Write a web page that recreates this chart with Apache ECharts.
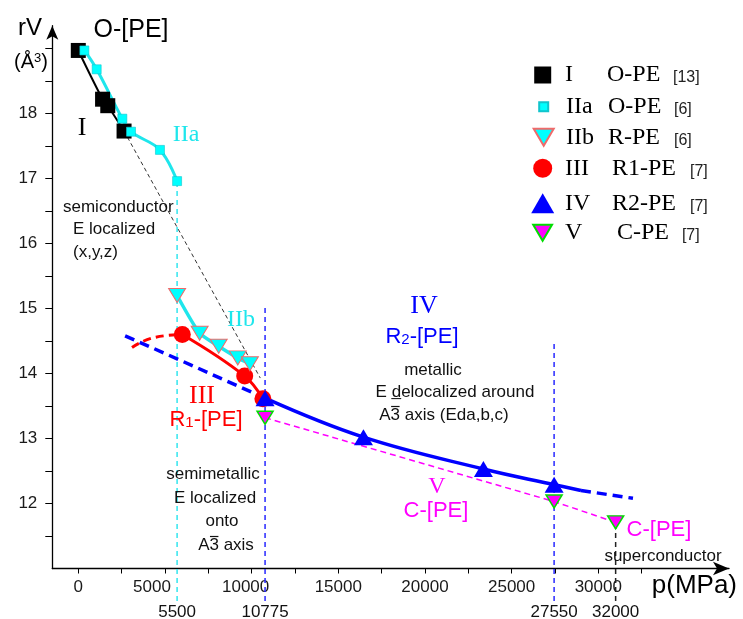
<!DOCTYPE html>
<html><head><meta charset="utf-8">
<script src="https://cdn.jsdelivr.net/npm/echarts@6/dist/echarts.min.js"></script>
<style>html,body{margin:0;padding:0;background:#fff}#c{width:743px;height:619px}</style>
</head><body><div id="c"></div>
<script>
// ---------- data ----------
const pI   = [0, 1400, 1700, 2640];
const vI   = [18.97, 18.22, 18.12, 17.73];
const pIIa = [350, 1060, 2540, 3040, 4710, 5700];
const vIIa = [18.97, 18.68, 17.92, 17.72, 17.44, 16.96];
const pIIb = [5700, 7000, 8100, 9200, 9900];
const vIIb = [15.2, 14.62, 14.42, 14.24, 14.15];
const pIII = [6000, 9600, 10650];
const vIII = [14.6, 13.96, 13.61];
const pIV  = [10775, 16450, 23370, 27450];
const vIV  = [13.62, 13.02, 12.53, 12.29];
const pV   = [10775, 27450, 31000];
const vV   = [13.32, 12.03, 11.71];
// guide curves
const pIIIdash = [3100, 4330, 6000];
const vIIIdash = [14.40, 14.55, 14.6];
const pIVdashL = [2700, 6000, 10775];
const vIVdashL = [14.58, 14.19, 13.62];
const pIVsolid = [10775, 16450, 23370, 27450, 29000];
const vIVsolid = [13.62, 13.02, 12.53, 12.29, 12.2];
const pIVdashR = [29000, 32000];
const vIVdashR = [12.2, 12.08];
const pIdash = [2640, 10500];
const vIdash = [17.73, 13.93];
// vertical guides
const guideP = [5700, 10775, 27450, 31000];
const guideTop = [16.96, 15.07, 14.5, 11.71];
const guideBottom = 10.5;
const guideLabels = ['5500', '10775', '27550', '32000'];
// axis ticks / labels
const xTicks = [0,2500,5000,7500,10000,12500,15000,17500,20000,22500,25000,27500,30000,32500];
const xLabels = [0,5000,10000,15000,20000,25000,30000];
const yTicks = [11.5,12,12.5,13,13.5,14,14.5,15,15.5,16,16.5,17,17.5,18,18.5,19];
const yLabels = [12,13,14,15,16,17,18];
// legend
const legCodes = ['I','IIa','IIb','III','IV','V'];
const legNames = ['O-PE','O-PE','R-PE','R1-PE','R2-PE','C-PE'];
const legRefs  = ['[13]','[6]','[6]','[7]','[7]','[7]'];

// ---------- styling ----------
const SANS = '"Liberation Sans", Arial, sans-serif';
const SERIF = '"Liberation Serif", "Times New Roman", serif';
const DOWN = 'path://M0,0L20,0L10,17Z';
const CYAN='#00ffff', CYANL='#1ee6ec', RED='#ff0000', BLUE='#0000ff', MAG='#ff00ff', GREEN='#00dd00';
const zip = (a,b) => a.map((x,i)=>[x,b[i]]);

const seriesNames = ['I','IIa','IIb','III','IV','V'];
const legRowY = [75,106.7,137.3,168.3,203.3,232.7];
const legIconW = [17,9,20,19,23,21];
const legIconH = [17,9,17,19,20,16];
const legBStart = [607,607,607,612,612,617];
const legCStart = [673,673,673,690,690,682];
const legCenterX = 542.7, legTextX = 565;

function scat(name, p, v, symbol, size, style, z){
  style.opacity = 1;
  return {type:'scatter', name, data:zip(p,v), symbol, symbolSize:size, itemStyle:style, z:z||10, silent:true};
}
function ln(p, v, color, width, type, smooth, z){
  return {type:'line', data:zip(p,v), symbol:'none', smooth:smooth||false, clip:false,
    lineStyle:{color, width, type:type||'solid'}, z:z||5, silent:true};
}

const guideColors = ['#33e6ee','#2828ff','#2828ff','#222'];
const series = [];
guideP.forEach((p,i)=>{
  series.push(ln([p,p],[guideBottom,guideTop[i]],guideColors[i],1.5,[5,4],false,2));
});
series.push(ln(pIdash, vIdash, '#333', 1, [4,3], false, 3));
series.push(ln(pV, vV, MAG, 1.5, [6,4], false, 4));
series.push(ln(pIVdashL, vIVdashL, BLUE, 3.5, [10,6], false, 4));
series.push(ln(pIVsolid, vIVsolid, BLUE, 3.5, 'solid', 0.4, 4));
series.push(ln(pIVdashR, vIVdashR, BLUE, 3.5, [10,6], false, 4));
series.push(ln(pIIIdash, vIIIdash, RED, 3, [8,5], 0.5, 4));
series.push(ln(pIII, vIII, RED, 3, 'solid', 0.4, 4));
series.push(ln(pIIb, vIIb, CYANL, 3.5, 'solid', 0.2, 5));
series.push(ln(pIIa, vIIa, CYANL, 3, 'solid', 0.4, 5));
series.push(ln(pI, vI, '#000', 2, 'solid', 0.3, 6));

series.push(scat('I', pI, vI, 'rect', 15, {color:'#000'}, 12));
series.push(scat('IIa', pIIa, vIIa, 'rect', 9, {color:CYAN, borderColor:'#11c4cc', borderWidth:0.6}, 13));
series.push(scat('IIb', pIIb, vIIb, DOWN, [17,14], {color:CYAN, borderColor:'#f06a6a', borderWidth:1}, 11));
series.push(scat('III', pIII, vIII, 'circle', 17, {color:RED}, 10));
series.push(scat('IV', pIV, vIV, 'triangle', [19,16], {color:BLUE}, 12));
series.push(scat('V', pV, vV, DOWN, [16,13], {color:MAG, borderColor:GREEN, borderWidth:1.5}, 12));

const legends = seriesNames.map((nm,i)=>{
  const textStart = legCenterX + legIconW[i]/2 + 5;
  const pl = legTextX - textStart;
  return {
    data:[nm], left: legCenterX - legIconW[i]/2, top: legRowY[i]-15, padding:0,
    itemWidth: legIconW[i], itemHeight: legIconH[i], itemGap:0, selectedMode:false,
    formatter: ()=>'{a|'+legCodes[i]+'}{b|'+legNames[i]+'}{c|'+legRefs[i]+'}',
    textStyle:{fontFamily:SERIF, fontSize:24, lineHeight:30, color:'#000',
      rich:{
        a:{fontFamily:SERIF, fontSize:24, color:'#000', padding:[0,0,0,pl], width: legBStart[i]-legTextX},
        b:{fontFamily:SERIF, fontSize:24, color:'#000', width: legCStart[i]-legBStart[i]},
        c:{fontFamily:SANS, fontSize:16, color:'#222', padding:[6,0,0,0]}
      }}
  };
});

function txt(text, x, y, o){
  o = o || {};
  return {type:'text', x, y, silent:true, z:100, style:{
    text, fill:o.color||'#111', fontSize:o.size||17, fontFamily:o.family||SANS,
    align:o.align||'center', verticalAlign:'middle', rich:o.rich
  }};
}
function sub(color, big, small){
  return {m:{fontSize:big, fontFamily:SANS, fill:color, verticalAlign:'bottom'},
          s:{fontSize:small, fontFamily:SANS, fill:color, verticalAlign:'bottom', padding:[0,0,1,0]}};
}
// overlined "3" in "A3 ..." texts: measure text to place the bar
const mctx = document.createElement('canvas').getContext('2d');
function tw(t, size){ mctx.font = size + 'px "Liberation Sans", Arial, sans-serif'; return mctx.measureText(t).width; }
function a3text(full, cx, cy){
  const left = cx - tw(full,17)/2;
  const x1 = left + tw('A',17) + 0.5, x2 = left + tw('A3',17) - 0.5;
  return [txt(full, cx, cy), {type:'line', silent:true, z:100,
    shape:{x1, y1:cy-8.5, x2, y2:cy-8.5}, style:{stroke:'#111', lineWidth:1.2}}];
}
const graphics = [
  txt('O-[PE]', 131, 30, {size:25, color:'#000'}),
  txt('rV', 30, 28, {size:24, color:'#000'}),
  txt('{n|(Å}{s|3}{n|)}', 31, 62, {rich:{n:{fontSize:20,fontFamily:SANS,fill:'#000',verticalAlign:'bottom'}, s:{fontSize:13,fontFamily:SANS,fill:'#000',verticalAlign:'top'}}}),
  txt('I', 82, 128, {size:26, family:SERIF, color:'#000'}),
  txt('IIa', 186, 135, {size:24, family:SERIF, color:CYANL}),
  txt('IIb', 241, 320, {size:24, family:SERIF, color:CYANL}),
  txt('semiconductor', 63, 207, {align:'left'}),
  txt('E localized', 73, 229, {align:'left'}),
  txt('(x,y,z)', 73, 252, {align:'left'}),
  txt('III', 202, 396, {size:26, family:SERIF, color:RED}),
  txt('{m|R}{s|1}{m|-[PE]}', 206, 420, {rich:sub(RED,22,15)}),
  txt('IV', 424, 306, {size:26, family:SERIF, color:BLUE}),
  txt('{m|R}{s|2}{m|-[PE]}', 422, 337, {rich:sub(BLUE,22,15)}),
  txt('metallic', 433, 370),
  txt('E d\u0332elocalized around', 455, 392),
  ...a3text('A3 axis (Eda,b,c)', 444, 415),
  txt('semimetallic', 213, 474),
  txt('E localized', 215, 498),
  txt('onto', 222, 521),
  ...a3text('A3 axis', 226, 545),
  txt('V', 437, 487, {size:24, family:SERIF, color:MAG}),
  txt('C-[PE]', 436, 511, {size:22, color:MAG}),
  txt('C-[PE]', 659, 530, {size:22, color:MAG}),
  txt('superconductor', 663, 556)
];

const chart = echarts.init(document.getElementById('c'));
const option = {
  animation:false,
  backgroundColor:'#fff',
  grid:{left:52.3, right:14, top:25.75, bottom:50.5, containLabel:false, outerBoundsMode:'none'},
  xAxis:{type:'value', min:-1500, max:37540,
    axisLine:{show:true, onZero:false, symbol:['none','arrow'], symbolSize:[10,16], lineStyle:{color:'#000', width:1.3}},
    axisTick:{show:true, customValues:xTicks, length:5, inside:false, lineStyle:{color:'#000'}},
    axisLabel:{customValues:xLabels, fontSize:17, fontFamily:SANS, color:'#1a1a1a', margin:10,
      formatter:(v)=> v===5000 ? '{l|5000}' : (v===10000 ? '{m|10000}' : String(v)),
      rich:{l:{fontSize:17,fontFamily:SANS,color:'#1a1a1a',padding:[0,26,0,0]}, m:{fontSize:17,fontFamily:SANS,color:'#1a1a1a',padding:[0,12,0,0]}}},
    splitLine:{show:false},
    name:'p(MPa)', nameLocation:'end', nameGap:8,
    nameTextStyle:{align:'right', verticalAlign:'top', fontSize:26, fontFamily:SANS, color:'#000', padding:[4,0,0,0]}
  },
  yAxis:{type:'value', min:11, max:19.35, position:'left',
    axisLine:{show:true, onZero:false, symbol:['none','arrow'], symbolSize:[9,14], lineStyle:{color:'#000', width:1.3}},
    axisTick:{show:true, customValues:yTicks, length:7, inside:false, lineStyle:{color:'#000'}},
    axisLabel:{customValues:yLabels, fontSize:17, fontFamily:SANS, color:'#1a1a1a', margin:15},
    splitLine:{show:false}
  },
  legend: legends,
  series: series,
  graphic: graphics
};
chart.setOption(option);
// bottom labels for the vertical guide lines
const extra = guideLabels.map((lab,i)=>{
  const px = chart.convertToPixel({gridIndex:0}, [guideP[i], 11]);
  return txt(lab, px[0], 612);
});
chart.setOption({graphic: graphics.concat(extra)});
</script>
</body></html>
